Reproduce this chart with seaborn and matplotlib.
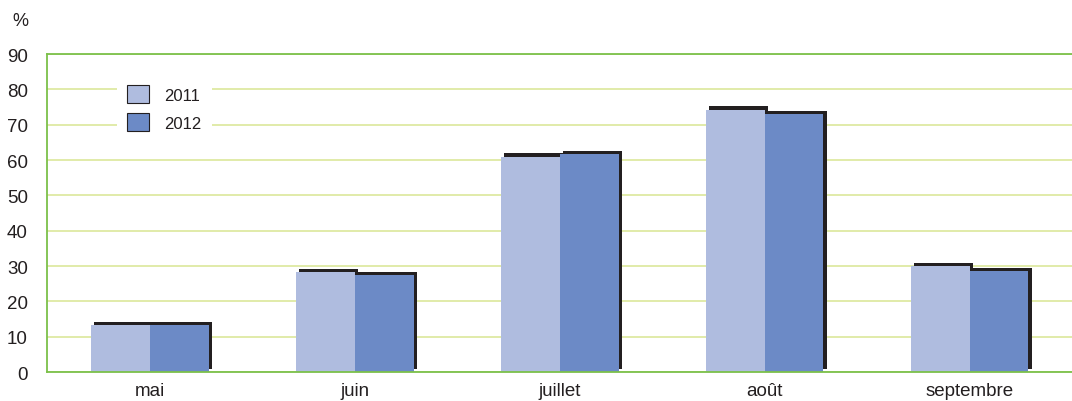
import pandas as pd
import matplotlib
matplotlib.use('Agg')
import matplotlib.pyplot as plt
import seaborn as sns
from matplotlib.patches import Rectangle
from matplotlib.transforms import offset_copy

# Values (percent)
months = ['mai', 'juin', 'juillet', 'août', 'septembre']
values_2011 = [13.3, 28.3, 61.0, 74.3, 30.0]
values_2012 = [13.3, 27.5, 61.8, 73.1, 28.7]
years = ['2011', '2012']

data = pd.DataFrame({
    'mois': months * 2,
    'annee': [years[0]] * len(months) + [years[1]] * len(months),
    'valeur': values_2011 + values_2012,
})

sns.set_style('white')
plt.rcParams['font.family'] = ['Liberation Sans', 'DejaVu Sans']

fig = plt.figure(figsize=(10.72, 4.02), dpi=100)
ax = fig.add_axes([0.044, 0.072, 0.956, 0.791])

sns.barplot(data=data, x='mois', y='valeur', hue='annee', order=months,
            hue_order=years, palette=['#afbcdf', '#6c8ac6'], width=0.575,
            saturation=1, edgecolor='none', linewidth=0, ax=ax, zorder=2)

# dark drop shadow up and to the right of each bar
shadow_tr = offset_copy(ax.transData, fig=fig, x=2.2, y=2.2, units='points')
for bar in list(ax.patches):
    if bar.get_height() > 0:
        ax.add_patch(Rectangle(bar.get_xy(), bar.get_width(), bar.get_height(),
                               transform=shadow_tr, facecolor='#231f20',
                               edgecolor='none', zorder=1.5, clip_on=False))

ax.set_ylim(0, 90)
ax.set_xlim(-0.5, 4.5)
ax.set_yticks(range(0, 91, 10))
ax.yaxis.grid(True, color='#dce79b', linewidth=1.2)
ax.set_axisbelow(True)

for side in ['left', 'top', 'bottom']:
    ax.spines[side].set_visible(True)
    ax.spines[side].set_color('#7cc04a')
    ax.spines[side].set_linewidth(1.3)
ax.spines['right'].set_visible(False)

ax.tick_params(axis='y', labelsize=13.5, colors='#231f20', length=0, pad=14)
ax.tick_params(axis='x', labelsize=13.5, colors='#231f20', length=0, pad=7)
ax.set_xlabel('')
ax.set_ylabel('')
fig.text(0.012, 0.935, '%', fontsize=13, color='#231f20')

leg = ax.legend(loc='upper left', bbox_to_anchor=(0.068, 0.935), frameon=True,
                fontsize=12, handlelength=1.3, handleheight=1.35,
                handletextpad=0.95, labelspacing=0.55, borderpad=0.6,
                borderaxespad=0)
leg.get_frame().set_facecolor('white')
leg.get_frame().set_edgecolor('none')
leg.get_frame().set_alpha(1)
for h in leg.legend_handles:
    h.set_edgecolor('#231f20')
    h.set_linewidth(0.8)
for t in leg.get_texts():
    t.set_color('#231f20')

fig.savefig('out.png', dpi=100)
